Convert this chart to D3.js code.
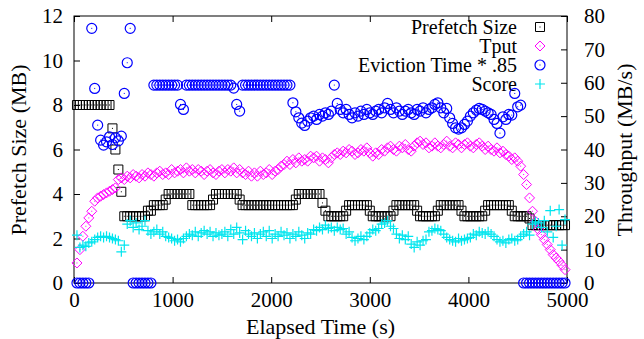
<!DOCTYPE html>
<html><head><meta charset="utf-8">
<script src="https://cdn.jsdelivr.net/npm/d3@7"></script>
<style>body{margin:0;background:#fff}</style>
</head><body>
<svg id="c" width="644" height="339"></svg>
<script>
const sampleStart = 30, sampleStep = 30;
const prefetchSize = [
8,8,8,8,8,8,8,8,8,8,
8,8,6.95,6.0,5.1,4.1,3.0,3.0,3.0,3.0,
3.0,3.0,3.0,3.0,3.25,3.25,3.5,3.5,3.5,3.5,
3.75,4.0,4.0,4.0,4.0,4.0,4.0,4.0,4.0,3.5,
3.5,3.5,3.5,3.5,3.5,3.5,3.75,4.0,4.0,4.0,
4.0,4.0,4.0,4.0,4.0,3.75,3.5,3.5,3.5,3.5,
3.5,3.5,3.5,3.5,3.5,3.5,3.5,3.5,3.5,3.5,
3.5,3.5,3.5,3.5,3.75,4.0,4.0,4.0,4.0,4.0,
4.0,4.0,4.0,3.6,3.25,3.0,3.0,3.0,3.0,3.0,
3.0,3.25,3.5,3.5,3.5,3.5,3.5,3.5,3.5,3.25,
3.0,3.0,3.0,3.0,3.0,3.0,3.0,3.25,3.5,3.5,
3.5,3.5,3.5,3.5,3.5,3.25,3.0,3.0,3.0,3.0,
3.0,3.0,3.25,3.5,3.5,3.5,3.5,3.5,3.5,3.5,
3.25,3.0,3.0,3.0,3.0,3.0,3.0,3.0,3.25,3.5,
3.5,3.5,3.5,3.5,3.5,3.5,3.5,3.25,3.0,3.0,
3.0,3.0,3.0,2.9,2.6,2.6,2.6,2.6,2.6,2.6,
2.6,2.6,2.6,2.6,2.6,2.6];
const tput = [
6,10,14,17,19.5,21.5,24.5,25.5,26,26.5,
27,27.5,28,28.5,31,31.5,31,32,31.5,32.5,
32,31.5,32.5,32,33,32.5,32,33,33.5,32.5,
33,32.5,34,33,33.5,34,33,34.5,33.5,34,
33,34,33.5,32.5,33.5,34,33,32.5,33.5,34,
33,34,33.5,34.5,33,34,33,32.5,33.5,32,
33,32,33.5,32.5,33,34,32.5,33.5,34,35,
35.5,36.5,35.5,37,36,37.5,36.5,37,36.5,38,
37.5,38,36.5,37.5,37,36,37.5,38.5,39,38.5,
39.5,39,40,39.5,38.5,39,40,39.5,40.5,39,
38,39,38.5,40,39.5,40.5,41,40,39.5,41,
40.5,41.5,40,39.5,41,42,42.5,41.5,42,40.5,
41,42,41,40.5,41.5,42.5,41,40.5,42,41.5,
40.5,41.5,42,41,40.5,41.5,42,41,40,41,
40,39.5,40.5,39,39.5,38.5,38,37,37.5,36.5,
35,32.5,29.5,25.5,21.5,18.5,16,14.5,13,11.5,
10,8.5,7.5,6.5,5.3,4];
const evictionTime = [
0,0,0,0,0,76.3,58.3,47.3,42.8,41.3,
42.3,43.8,41.5,43.5,42.6,44,56.8,66,76.3,0,
0,0,0,0,0,0,59.3,59.3,59.3,59.3,
59.3,59.3,59.3,59.3,59.3,53.5,52,59.3,59.3,59.3,
59.3,59.3,59.3,59.3,59.3,59.3,59.3,59.3,59.3,59.3,
59.3,59.3,59.3,58.4,53.5,51.5,59.3,59.3,59.3,59.3,
59.3,59.3,59.3,59.3,59.3,59.3,59.3,59.3,59.3,59.3,
59.3,59.3,59.3,54,51.3,49.5,47.9,47.2,48.5,49.5,
50,49,50.5,50,51,50.5,51.5,59.3,53.8,52,
51,52,50.5,49.5,51,50,51.5,50.5,52,51,
50.5,51.5,52,51,52.5,53.8,52,51,52.5,51.5,
50.5,51.5,52,51,50.5,52,51.5,52.5,51,52,
52.5,53.5,54,52.5,51,52.3,49.5,47.8,46.5,46.1,
46.5,47.5,48.5,50,51,51.8,52.3,52,51.5,51,
50.5,49,47.8,44.9,49.8,49,50.5,50.3,56.8,52.8,
53.3,0,0,0,0,0,0,0,0,0,
0,0,0,0,0,0];
const score = [
2.15,1.6,1.7,1.65,1.8,1.85,1.95,2.05,2.1,2.05,
2.1,2.05,2.0,1.95,1.9,1.4,1.7,2.65,2.8,2.5,
2.7,2.4,2.55,2.8,2.35,2.2,2.3,2.4,2.2,2.3,
2.1,2.05,2.0,1.9,1.95,1.85,2.0,2.1,2.2,2.15,
2.3,2.1,2.25,2.35,2.2,2.3,2.1,2.25,2.15,2.2,
2.3,2.1,2.4,2.2,2.5,2.25,1.95,2.35,2.2,2.1,
2.25,2.0,2.2,2.3,2.1,2.35,2.0,2.2,2.1,2.3,
2.15,2.25,2.0,2.2,2.1,2.3,2.15,2.0,2.25,2.2,
2.4,2.35,2.5,2.4,2.6,2.45,2.5,2.35,2.5,2.4,
2.45,2.2,2.3,2.05,1.9,2.0,2.1,1.95,2.1,2.25,
2.4,2.35,2.45,2.65,2.7,2.8,2.55,2.45,2.2,2.0,
2.15,1.95,2.1,1.75,1.6,1.85,1.7,1.9,1.95,2.3,
2.35,2.45,2.4,2.35,2.2,2.05,1.95,1.9,1.85,2.0,
1.9,1.95,2.0,2.05,2.2,2.15,2.3,2.25,2.2,2.3,
2.2,2.1,1.95,1.85,1.9,1.8,1.95,2.0,1.9,1.95,
2.1,2.2,2.3,2.15,2.65,2.75,2.7,2.5,2.8,2.3,
3.25,2.05,2.55,3.3,1.7,2.85];
const xTicks = [0,1000,2000,3000,4000,5000];
const yLeftTicks = [0,2,4,6,8,10,12];
const yRightTicks = [0,10,20,30,40,50,60,70,80];
const seriesNames = ["Prefetch Size","Tput","Eviction Time * .85","Score"];
const xTitle = "Elapsed Time (s)", yLeftTitle = "Prefetch Size (MB)", yRightTitle = "Throughput (MB/s)";

const FONT = "Liberation Serif";
const times = prefetchSize.map((_, i) => sampleStart + i * sampleStep);
const L = 74, R = 567, T = 16, B = 283, FS = 21, FT = 22;
const svg = d3.select("#c");
const x = d3.scaleLinear().domain([0,5000]).range([L,R]);
const yL = d3.scaleLinear().domain([0,12]).range([B,T]);
const yR = d3.scaleLinear().domain([0,80]).range([B,T]);

function styleAxis(g){
  g.attr("font-family", FONT).attr("font-size", FS);
  g.select(".domain").remove();
  g.selectAll("line").attr("stroke","#000").attr("stroke-width",1);
  g.selectAll("text").attr("fill","#000");
}
svg.append("g").attr("transform",`translate(0,${B})`)
  .call(d3.axisBottom(x).tickValues(xTicks).tickFormat(d3.format("d")).tickSizeInner(-6).tickSizeOuter(0).tickPadding(9)).call(styleAxis);
svg.append("g").attr("transform",`translate(0,${T})`)
  .call(d3.axisTop(x).tickValues(xTicks).tickFormat("").tickSizeInner(-6).tickSizeOuter(0)).call(styleAxis);
svg.append("g").attr("transform",`translate(${L},0)`)
  .call(d3.axisLeft(yL).tickValues(yLeftTicks).tickSizeInner(-6).tickSizeOuter(0).tickPadding(11)).call(styleAxis);
svg.append("g").attr("transform",`translate(${R},0)`)
  .call(d3.axisRight(yR).tickValues(yRightTicks).tickSizeInner(-6).tickSizeOuter(0).tickPadding(17)).call(styleAxis);

svg.append("rect").attr("x",L).attr("y",T).attr("width",R-L).attr("height",B-T)
  .attr("fill","none").attr("stroke","#000").attr("stroke-width",1);

function txt(){ return svg.append("text").attr("font-family",FONT).attr("font-size",FT).attr("fill","#000"); }
txt().attr("x",(L+R)/2).attr("y",334).attr("text-anchor","middle").text(xTitle);
txt().attr("transform","translate(26,150) rotate(-90)").attr("text-anchor","middle").text(yLeftTitle);
txt().attr("transform","translate(632,150) rotate(-90)").attr("text-anchor","middle").text(yRightTitle);

const shapes = [
  {color:"#000000", path:"M-4.5,-4.5H4.5V4.5H-4.5Z", dot:true, w:1},
  {color:"#ff00ff", path:"M0,-5L5,0L0,5L-5,0Z", dot:true, w:1},
  {color:"#0000ff", path:"M5,0A5,5 0 1,1 -5,0A5,5 0 1,1 5,0Z", dot:true, w:1.2},
  {color:"#00e5ee", path:"M-5,0H5M0,-5V5", dot:false, w:1.2}
];
const seriesData = [
  prefetchSize.map((v,i)=>[x(times[i]), yL(v)]),
  tput.map((v,i)=>[x(times[i]), yR(v)]),
  evictionTime.map((v,i)=>[x(times[i]), yR(v)]),
  score.map((v,i)=>[x(times[i]), yL(v)])
];

const legY = [27,46,65,84];
seriesNames.forEach((n,k)=>{
  txt().attr("x",517).attr("y",legY[k]).attr("dy","0.33em").attr("text-anchor","end").attr("font-size",20).text(n);
  const g = svg.append("g").attr("transform",`translate(540,${legY[k]})`);
  g.append("path").attr("d",shapes[k].path).attr("fill","none").attr("stroke",shapes[k].color).attr("stroke-width",shapes[k].w);
  if(shapes[k].dot) g.append("rect").attr("x",-0.5).attr("y",-0.5).attr("width",1).attr("height",1).attr("fill",shapes[k].color);
});

seriesData.forEach((pts,k)=>{
  const g = svg.append("g");
  const sel = g.selectAll("g").data(pts).join("g").attr("transform",d=>`translate(${d[0]},${d[1]})`);
  sel.append("path").attr("d",shapes[k].path).attr("fill","none").attr("stroke",shapes[k].color).attr("stroke-width",shapes[k].w);
  if(shapes[k].dot) sel.append("rect").attr("x",-0.5).attr("y",-0.5).attr("width",1).attr("height",1).attr("fill",shapes[k].color);
});
</script>
</body></html>
